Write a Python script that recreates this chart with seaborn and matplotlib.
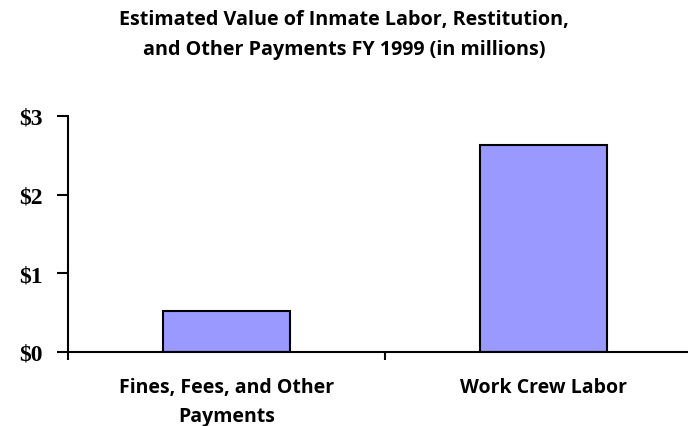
import matplotlib
matplotlib.use("Agg")
import matplotlib.pyplot as plt
import seaborn as sns
import pandas as pd
from matplotlib.ticker import FixedLocator

categories = ["Fines, Fees, and Other\nPayments", "Work Crew Labor"]
values = [0.52, 2.635]
yticks = [0, 1, 2, 3]
ytick_labels = ["$0", "$1", "$2", "$3"]

sns.set_style("white")
plt.rcParams['font.family'] = ['Open Sans', 'DejaVu Sans']
plt.rcParams['text.color'] = 'black'
plt.rcParams['xtick.color'] = 'black'
plt.rcParams['ytick.color'] = 'black'

df = pd.DataFrame({"category": categories, "value": values})

fig = plt.figure(figsize=(6.88, 4.27), dpi=100)
ax = fig.add_axes([68/688, 74/427, 634/688, 236/427])
sns.barplot(data=df, x="category", y="value", color="#9999FF", saturation=1,
            width=0.4, edgecolor="black", linewidth=1.5, ax=ax)

ax.set_xlim(-0.5, 1.5)
ax.set_ylim(0, 3)
ax.set_xlabel("")
ax.set_ylabel("")
for s in ["top", "right"]:
    ax.spines[s].set_visible(False)
for s in ["left", "bottom"]:
    ax.spines[s].set_color("black")
    ax.spines[s].set_linewidth(1.5)

ax.set_yticks(yticks)
ax.set_yticklabels(ytick_labels, fontfamily="Liberation Serif", fontweight="bold",
                   fontsize=17, color="black")
ax.tick_params(axis="y", which="major", direction="out", length=8, width=1.5,
               color="black", left=True, pad=10)

ax.set_xticks([0, 1])
ax.set_xticklabels(categories, fontweight="bold", fontsize=14, linespacing=1.6,
                   color="black")
ax.xaxis.set_minor_locator(FixedLocator([-0.5, 0.5, 1.5]))
ax.tick_params(axis="x", which="major", length=0, pad=18)
ax.tick_params(axis="x", which="minor", direction="out", length=6, width=1.5,
               color="black", bottom=True)

fig.text(0.5, 0.977, "Estimated Value of Inmate Labor, Restitution,\nand Other Payments FY 1999 (in millions)",
         ha="center", va="top", fontsize=14.2, fontweight="bold", linespacing=1.7,
         color="black")

fig.savefig("out.png", dpi=100)
